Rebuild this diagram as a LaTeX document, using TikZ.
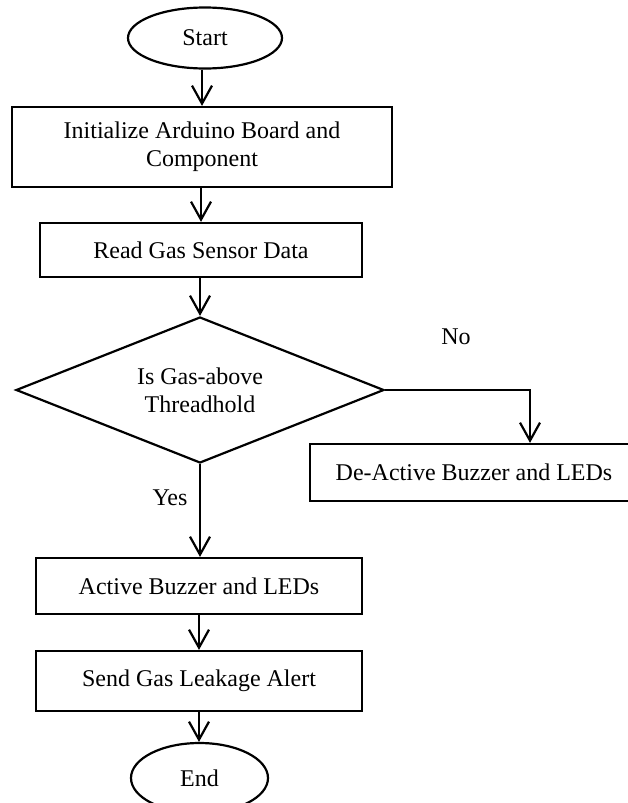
\documentclass[tikz,border=0pt]{standalone}
\usepackage{fontspec}
\setmainfont{Liberation Serif}
\usetikzlibrary{arrows.meta,shapes.geometric}

\begin{document}
\begin{tikzpicture}[x=0.5pt,y=-0.5pt,line width=1.1pt,
		font=\fontsize{12}{14}\selectfont,
		procbox/.style={draw, rectangle, inner sep=0pt, align=center},
		term/.style={draw, ellipse, inner sep=0pt},
		decide/.style={draw, diamond, inner sep=0pt, aspect=2.5, align=center},
		arr/.style={-{Straight Barb[length=9pt,width=10pt]}}]
		\useasboundingbox (0,0) rectangle (627,803);

		% flow nodes
		\node[term, minimum width=77pt, minimum height=30.5pt] (start) at (205,38) {Start};
		\node[procbox, minimum width=190pt, minimum height=40pt] (init) at (202,147) {Initialize Arduino Board and\\Component};
		\node[procbox, minimum width=161pt, minimum height=27pt] (read) at (201,250) {Read Gas Sensor Data};
		\node[decide, minimum width=184pt, minimum height=73pt] (check) at (200,390) {Is Gas-above\\Threadhold};
		\node[procbox, minimum width=164pt, minimum height=28.5pt] (deact) at (474,472.5) {De-Active Buzzer and LEDs};
		\node[procbox, minimum width=163pt, minimum height=28pt] (act) at (199,586) {Active Buzzer and LEDs};
		\node[procbox, minimum width=163pt, minimum height=30pt] (alert) at (199,681) {Send Gas Leakage Alert};
		\node[term, minimum width=68.5pt, minimum height=35pt] (finish) at (199.5,778) {End};

		% branch labels
		\node (no) at (456,337) {No};
		\node (yes) at (170,498) {Yes};

		% connectors
		\coordinate (turn) at (530,390);
		\draw[arr] (start.south -| init.north) -- (init.north);
		\draw[arr] (init.south -| read.north) -- (read.north);
		\draw[arr] (read.south -| check.north) -- (check.north);
		\draw[arr] (check.east) -- (turn) -- (turn |- deact.north);
		\draw[arr] (check.south) -- (check.south |- act.north);
		\draw[arr] (act.south) -- (alert.north);
		\draw[arr] (alert.south) -- (alert.south |- finish.north);
	\end{tikzpicture}
\end{document}
